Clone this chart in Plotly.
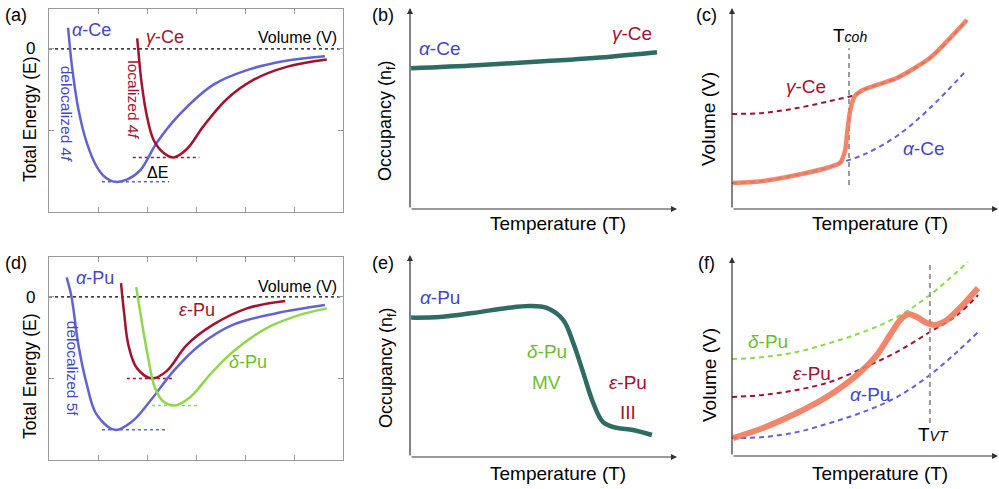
import plotly.graph_objects as go

W, H = 999, 489
FONT = "Liberation Sans, Arial, Helvetica, sans-serif"

BLUE = "#6262d0"
BLUE_T = "#4545cc"
RED = "#a3122f"
GREEN = "#8fd84c"
GREEN_T = "#6cbf2c"
TEAL = "#2e6b63"
ORANGE = "#f07a5c"

# ---------------- data ----------------
# (a) energy curves, Ce
a_alpha_x = [0.39, 0.43, 0.47, 0.60, 0.77, 0.97, 1.14, 1.35, 1.60, 1.86, 2.20, 2.67, 3.35, 4.04, 4.78, 5.63]
a_alpha_y = [0.26, 0.00, -0.22, -0.74, -1.15, -1.44, -1.57, -1.63, -1.60, -1.49, -1.15, -0.80, -0.44, -0.26, -0.15, -0.09]
a_gamma_x = [1.80, 1.82, 1.89, 2.00, 2.13, 2.33, 2.54, 2.81, 3.15, 3.62, 4.17, 4.85, 5.67]
a_gamma_y = [0.13, 0.00, -0.42, -0.83, -1.11, -1.27, -1.33, -1.23, -0.95, -0.62, -0.38, -0.22, -0.13]
a_ref_gamma = {"x": [1.71, 3.07], "y": [-1.33, -1.33]}
a_ref_alpha = {"x": [1.08, 2.45], "y": [-1.63, -1.63]}

# (d) energy curves, Pu
d_alpha_x = [0.36, 0.46, 0.60, 0.77, 0.97, 1.35, 1.71, 2.06, 2.54, 3.08, 3.76, 4.64, 5.63]
d_alpha_y = [0.24, 0.00, -0.59, -1.07, -1.44, -1.63, -1.52, -1.28, -0.91, -0.59, -0.34, -0.20, -0.10]
d_eps_x = [1.47, 1.53, 1.62, 1.79, 2.10, 2.40, 2.81, 3.35, 4.04, 4.82]
d_eps_y = [0.17, -0.18, -0.59, -0.87, -1.00, -0.91, -0.59, -0.34, -0.14, -0.05]
d_delta_x = [1.78, 1.86, 2.00, 2.16, 2.33, 2.57, 2.88, 3.29, 3.76, 4.45, 5.12, 5.67]
d_delta_y = [0.12, -0.18, -0.67, -1.11, -1.28, -1.33, -1.23, -0.95, -0.67, -0.38, -0.22, -0.14]
d_ref_eps = {"x": [1.59, 2.57], "y": [-1.00, -1.00]}
d_ref_delta = {"x": [2.10, 3.04], "y": [-1.33, -1.33]}
d_ref_alpha = {"x": [1.08, 2.43], "y": [-1.63, -1.63]}

# (b) occupancy, Ce
b_T = [0.04, 2.5, 5.0, 7.5, 9.25]
b_n = [7.00, 7.15, 7.35, 7.58, 7.80]

# (c) volume, Ce
c_T = [0.04, 1.17, 2.44, 3.68, 4.06, 4.25, 4.32, 4.44, 4.62, 4.92, 6.20, 7.44, 8.83]
c_V = [1.29, 1.39, 1.69, 2.09, 2.29, 2.89, 3.68, 4.88, 5.62, 5.92, 6.52, 7.51, 9.40]
c_gamma_T = [0.0, 1.17, 2.44, 3.68, 4.70, 4.92, 6.20, 7.44, 8.83]
c_gamma_V = [4.73, 4.78, 5.02, 5.37, 5.72, 5.92, 6.52, 7.51, 9.40]
c_alpha_T = [0.0, 1.17, 2.44, 3.68, 4.06, 4.92, 6.20, 7.44, 8.83]
c_alpha_V = [1.29, 1.39, 1.69, 2.09, 2.29, 2.69, 3.63, 5.02, 6.92]
c_Tcoh = 4.40

# (e) occupancy, Pu
e_T = [0.04, 1.12, 2.37, 3.63, 4.49, 5.12, 5.74, 6.10, 6.48, 6.85, 7.23, 7.75, 8.35, 9.06]
e_n = [6.90, 6.93, 7.13, 7.38, 7.48, 7.38, 6.78, 5.70, 4.20, 2.72, 1.73, 1.44, 1.34, 1.09]

# (f) volume, Pu
f_T = [0.04, 1.17, 2.44, 3.68, 4.70, 5.45, 5.94, 6.32, 6.62, 6.95, 7.33, 7.63, 8.08, 8.68, 9.25]
f_V = [0.90, 1.41, 2.16, 3.07, 4.07, 5.08, 6.08, 6.83, 7.13, 6.98, 6.68, 6.58, 6.83, 7.59, 8.44]
f_delta_T = [0.0, 1.17, 2.44, 3.68, 4.93, 6.20, 7.44, 8.87]
f_delta_V = [4.87, 4.97, 5.23, 5.68, 6.23, 6.98, 8.09, 9.75]
f_eps_T = [0.0, 1.17, 2.44, 3.68, 4.93, 6.20, 7.44, 8.46, 9.25]
f_eps_V = [2.96, 3.07, 3.32, 3.72, 4.42, 5.23, 6.23, 7.08, 8.09]
f_alpha_T = [0.0, 1.17, 2.44, 3.68, 4.93, 6.20, 7.44, 8.46, 9.25]
f_alpha_V = [0.90, 0.95, 1.20, 1.66, 2.21, 2.96, 4.07, 5.23, 6.23]
f_TVT = 7.44

# ---------------- layout helpers ----------------
def dom_x(p0, p1):
    return [p0 / W, p1 / W]

def dom_y(top, bottom):
    return [1 - bottom / H, 1 - top / H]

panels = {
    "a": dict(x=dom_x(49, 343), y=dom_y(9, 212)),
    "b": dict(x=dom_x(410, 677), y=dom_y(8, 209)),
    "c": dict(x=dom_x(732, 998), y=dom_y(8, 209)),
    "d": dict(x=dom_x(49, 343), y=dom_y(257, 460)),
    "e": dict(x=dom_x(410, 677), y=dom_y(255, 457)),
    "f": dict(x=dom_x(732, 998), y=dom_y(257, 456)),
}
axid = {"a": "", "b": "2", "c": "3", "d": "4", "e": "5", "f": "6"}

fig = go.Figure()

def line(p, x, y, color, width, dash="solid", opacity=1.0, shape="spline", smoothing=1.0):
    kw = dict(shape=shape)
    if shape == "spline":
        kw["smoothing"] = smoothing
    fig.add_trace(go.Scatter(
        x=x, y=y, mode="lines", xaxis="x" + axid[p], yaxis="y" + axid[p],
        line=dict(color=color, width=width, dash=dash, **kw),
        opacity=opacity, hoverinfo="skip", showlegend=False))

# (a)
line("a", [0, 6], [0, 0], "black", 1.2, dash="3px,3px", shape="linear")
line("a", a_ref_gamma["x"], a_ref_gamma["y"], RED, 1.5, dash="dot", shape="linear")
line("a", a_ref_alpha["x"], a_ref_alpha["y"], BLUE, 1.5, dash="dot", shape="linear")
line("a", a_alpha_x, a_alpha_y, BLUE, 2.5)
line("a", a_gamma_x, a_gamma_y, RED, 2.5)

# (d)
line("d", [0, 6], [0, 0], "black", 1.2, dash="3px,3px", shape="linear")
line("d", d_ref_eps["x"], d_ref_eps["y"], RED, 1.5, dash="dot", shape="linear")
line("d", d_ref_delta["x"], d_ref_delta["y"], GREEN, 1.5, dash="dot", shape="linear")
line("d", d_ref_alpha["x"], d_ref_alpha["y"], BLUE, 1.5, dash="dot", shape="linear")
line("d", d_alpha_x, d_alpha_y, BLUE, 2.5)
line("d", d_eps_x, d_eps_y, RED, 2.5)
line("d", d_delta_x, d_delta_y, GREEN, 2.5)

# (b)
line("b", b_T, b_n, TEAL, 4.5)

# (c)
line("c", c_gamma_T, c_gamma_V, RED, 2, dash="5px,4px")
line("c", c_alpha_T, c_alpha_V, BLUE, 2, dash="5px,4px")
line("c", [c_Tcoh, c_Tcoh], [1.2, 8.0], "#999999", 2, dash="5px,4px", shape="linear")
line("c", c_T, c_V, ORANGE, 4.5, opacity=0.9, smoothing=0.6)

# (e)
line("e", e_T, e_n, TEAL, 4.5)

# (f)
line("f", f_delta_T, f_delta_V, GREEN, 2, dash="5px,4px")
line("f", f_eps_T, f_eps_V, RED, 2, dash="5px,4px")
line("f", f_alpha_T, f_alpha_V, BLUE, 2, dash="5px,4px")
line("f", [f_TVT, f_TVT], [1.66, 9.7], "#999999", 2, dash="5px,4px", shape="linear")
line("f", f_T, f_V, ORANGE, 6, opacity=0.9, smoothing=0.7)

layout = dict(
    width=W, height=H, margin=dict(l=0, r=0, t=0, b=0),
    paper_bgcolor="white", plot_bgcolor="white",
    font=dict(family=FONT, size=17, color="black"),
    showlegend=False,
)

for p in "abcdef":
    xa = "xaxis" + axid[p]
    ya = "yaxis" + axid[p]
    if p in "ad":
        layout[xa] = dict(domain=panels[p]["x"], range=[0, 6], anchor="y" + axid[p],
                          showline=True, linecolor="#9a9a9a", linewidth=1, mirror="ticks",
                          ticks="inside", ticklen=5, tickcolor="#9a9a9a",
                          tickvals=[1, 2, 3, 4, 5], showticklabels=False,
                          showgrid=False, zeroline=False, fixedrange=True)
        layout[ya] = dict(domain=panels[p]["y"], range=[-2, 0.49], anchor="x" + axid[p],
                          showline=True, linecolor="#9a9a9a", linewidth=1, mirror="ticks",
                          ticks="inside", ticklen=5, tickcolor="#9a9a9a",
                          tickvals=[-2, -1, 0], showticklabels=False,
                          showgrid=False, zeroline=False, fixedrange=True)
    else:
        layout[xa] = dict(domain=panels[p]["x"], range=[0, 10], anchor="y" + axid[p],
                          showline=False, showticklabels=False, ticks="",
                          showgrid=False, zeroline=False, fixedrange=True)
        layout[ya] = dict(domain=panels[p]["y"], range=[0, 10], anchor="x" + axid[p],
                          showline=False, showticklabels=False, ticks="",
                          showgrid=False, zeroline=False, fixedrange=True)

fig.update_layout(**layout)

ann = []

def txt(p, x, y, text, color="black", size=18, angle=0):
    ann.append(dict(x=x, y=y, xref="x" + axid[p], yref="y" + axid[p], text=text,
                    showarrow=False, font=dict(size=size, color=color, family=FONT),
                    textangle=angle, xanchor="center", yanchor="middle"))

def ptxt(px, py, text, size=17, angle=0, color="black"):
    ann.append(dict(x=px / W, y=1 - py / H, xref="paper", yref="paper", text=text,
                    showarrow=False, font=dict(size=size, color=color, family=FONT),
                    textangle=angle, xanchor="center", yanchor="middle"))

def arrow(p, x0, y0, x1, y1):
    ann.append(dict(x=x1, y=y1, ax=x0, ay=y0, xref="x" + axid[p], yref="y" + axid[p],
                    axref="x" + axid[p], ayref="y" + axid[p], text="", showarrow=True,
                    arrowhead=2, arrowsize=1, arrowwidth=1.2, arrowcolor="#333333"))

# panel labels
for lab, (px, py) in {"(a)": (16, 15), "(b)": (383, 15), "(c)": (706, 15),
                      "(d)": (16, 263), "(e)": (383, 263), "(f)": (706, 263)}.items():
    ptxt(px, py, lab, size=18)

# axis titles
ptxt(30, 120, "Total Energy (E)", angle=-90, size=17.5)
ptxt(30, 377, "Total Energy (E)", angle=-90, size=17.5)
ptxt(387, 121, "Occupancy (n<sub>f</sub>)", angle=-90, size=18)
ptxt(387, 368, "Occupancy (n<sub>f</sub>)", angle=-90, size=18)
ptxt(709, 119, "Volume (V)", angle=-90, size=19)
ptxt(709, 375, "Volume (V)", angle=-90, size=19)
ptxt(558, 223, "Temperature (T)", size=19)
ptxt(880, 223, "Temperature (T)", size=19)
ptxt(558, 473, "Temperature (T)", size=19)
ptxt(880, 473, "Temperature (T)", size=19)
ptxt(30, 49, "0", size=17)
ptxt(30, 297, "0", size=17)

# arrows for b, c, e, f
for p in "bcef":
    arrow(p, 0, 0, 0, 10)
    arrow(p, 0, 0, 10, 0)

# (a) labels
txt("a", 0.87, 0.23, "<i>α</i>-Ce", BLUE_T)
txt("a", 2.37, 0.15, "<i>γ</i>-Ce", RED)
txt("a", 5.08, 0.14, "Volume (V)", "black", 16)
txt("a", 2.22, -1.52, "ΔE", "black", 16)
txt("a", 0.36, -0.79, "delocalized 4<i>f</i>", BLUE_T, 15.5, angle=90)
txt("a", 1.72, -0.62, "localized 4<i>f</i>", RED, 15.5, angle=90)

# (d) labels
txt("d", 0.94, 0.23, "<i>α</i>-Pu", BLUE_T)
txt("d", 3.02, -0.16, "<i>ε</i>-Pu", RED)
txt("d", 4.06, -0.80, "<i>δ</i>-Pu", GREEN_T)
txt("d", 5.08, 0.13, "Volume (V)", "black", 16)
txt("d", 0.47, -0.87, "delocalized 5f", BLUE_T, 15.5, angle=90)

# (b) labels
txt("b", 1.10, 8.0, "<i>α</i>-Ce", BLUE_T, 19)
txt("b", 8.30, 8.75, "<i>γ</i>-Ce", RED, 19)

# (c) labels
txt("c", 4.44, 8.65, "T<i><span style='font-size:14px'>coh</span></i>", "black", 19)
txt("c", 2.80, 6.10, "<i>γ</i>-Ce", RED, 19)
txt("c", 7.20, 3.00, "<i>α</i>-Ce", BLUE_T, 19)

# (e) labels
txt("e", 1.12, 7.9, "<i>α</i>-Pu", BLUE_T, 19)
txt("e", 5.12, 5.2, "<i>δ</i>-Pu", GREEN_T, 19)
txt("e", 5.12, 3.7, "MV", GREEN_T, 19)
txt("e", 8.16, 3.7, "<i>ε</i>-Pu", RED, 19)
txt("e", 8.16, 2.2, "III", RED, 19)

# (f) labels
txt("f", 7.56, 1.06, "T<i><span style='font-size:14px'>VT</span></i>", "black", 19)
txt("f", 1.35, 5.73, "<i>δ</i>-Pu", GREEN_T, 19)
txt("f", 3.00, 4.17, "<i>ε</i>-Pu", RED, 19)
txt("f", 5.19, 3.07, "<i>α</i>-Pu", BLUE_T, 19)

fig.update_layout(annotations=ann)
fig.write_html("out.html", config={"displayModeBar": False})
